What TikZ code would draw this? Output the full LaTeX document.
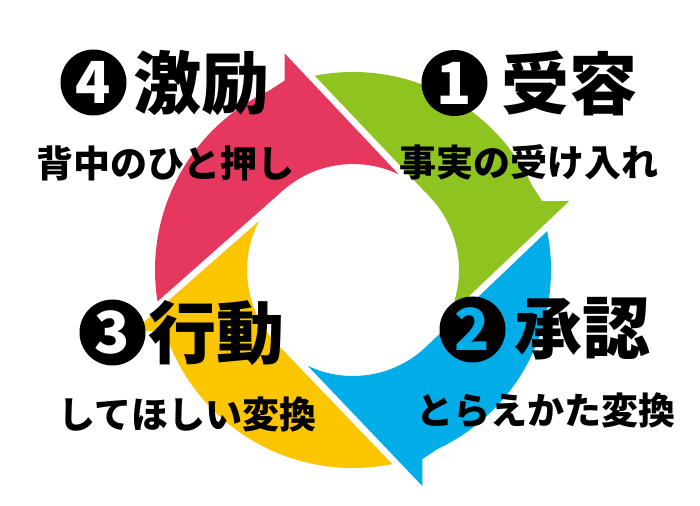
\documentclass[tikz,border=0pt]{standalone}
\usepackage{fontspec}
\newfontfamily\jp{Noto Sans CJK JP}
\definecolor{cRed}{HTML}{E6375F}
\definecolor{cGreen}{HTML}{8FC31F}
\definecolor{cBlue}{HTML}{00ADE9}
\definecolor{cYellow}{HTML}{FBC600}
\begin{document}
\begin{tikzpicture}[x=1pt,y=1pt,
  bigtxt/.style={inner sep=0pt, font=\jp\bfseries\fontsize{68}{68}\selectfont},
  subtxt/.style={inner sep=0pt, font=\jp\bfseries\fontsize{37}{37}\selectfont},
  badge/.style={circle, fill=black, minimum size=66pt, inner sep=0pt, text=white, font=\jp\bfseries\fontsize{58}{58}\selectfont}]
\fill[white] (0,0) rectangle (700,505);
\useasboundingbox (0,0) rectangle (700,505);
\begin{scope}[shift={(353,235)}]
\foreach \a/\p/\c in {43.5/131.5/cRed, -46.3/43.5/cGreen, -136.2/-46.3/cBlue, -228.5/-136.2/cYellow}{
  \pgfmathsetmacro\tA{\a+21}
  \pgfmathsetmacro\hA{\a+64}
  \pgfmathsetmacro\bA{\a-133.5}
  \pgfmathsetmacro\oA{\a+71.5}
  \pgfmathsetmacro\eA{\p+57.63}
  \fill[\c] (\tA:106) -- (\hA:227) -- ++(\bA:27) -- (\oA:198)
    arc[start angle=\oA, end angle=\eA, radius=198] -- (\p:106)
    arc[start angle=\p, end angle=\tA, radius=106] -- cycle;
}
\end{scope}
\node[badge] (n4) at (93.5,422.5) {4};
\node[bigtxt] (t4) at (201,421.5) {激励};
\node[subtxt] (s4) at (165.5,341.5) {背中のひと押し};
\node[badge] (n1) at (454.5,422) {1};
\node[bigtxt] (t1) at (569,422) {受容};
\node[subtxt] (s1) at (528.5,342.5) {事実の受け入れ};
\node[badge, text=cBlue] (n2) at (472.5,175.5) {2};
\node[bigtxt] (t2) at (582.5,176) {承認};
\node[subtxt] (s2) at (546,94.5) {とらえかた変換};
\node[badge] (n3) at (112.5,172.5) {3};
\node[bigtxt] (t3) at (216,172) {行動};
\node[subtxt] (s3) at (187.5,91) {してほしい変換};
\end{tikzpicture}
\end{document}
